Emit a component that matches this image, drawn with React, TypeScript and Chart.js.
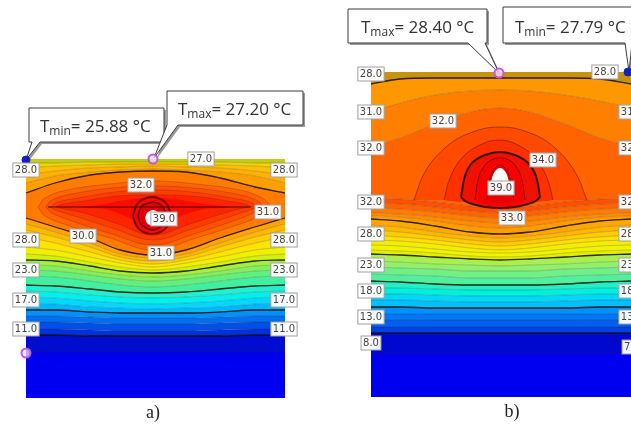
import React, { useEffect, useRef } from "react";
import { Chart, registerables } from "chart.js";

Chart.register(...registerables);

// ---------- panel a) isotherm curves, top to bottom ----------
const aStations = [26, 55, 90, 120, 153, 186, 220, 255, 285];
const aIsotherms = [
  [159, 159, 159, 159, 159, 159, 159, 159, 159],
  [163, 163, 162, 162, 162, 162, 162, 163, 163],
  [168, 166, 165, 164, 164, 164, 165, 166, 168],
  [175, 171, 168, 167, 166, 167, 168, 171, 175],
  [183, 176, 172, 170, 169, 170, 172, 176, 183],
  [193, 183, 175, 172, 171, 172, 178, 187, 193],
  [218, 227, 238, 250, 255, 250, 238, 227, 218],
  [224, 232, 243, 254, 258, 254, 243, 232, 224],
  [230, 237, 247, 257, 261, 257, 247, 237, 230],
  [237, 243, 252, 260, 264, 260, 252, 243, 237],
  [247, 250, 257, 263, 267, 263, 257, 250, 247],
  [254, 256, 262, 267, 270, 267, 262, 256, 254],
  [260, 261, 266, 271, 273, 271, 266, 261, 260],
  [265, 266, 271, 275, 277, 275, 271, 266, 265],
  [270, 271, 275, 279, 281, 279, 275, 271, 270],
  [276, 277, 281, 285, 287, 285, 281, 277, 276],
  [285, 286, 289, 292, 293, 292, 289, 286, 285],
  [291, 292, 295, 297, 298, 297, 295, 292, 291],
  [297, 298, 301, 303, 304, 303, 301, 298, 297],
  [303, 304, 307, 308, 309, 308, 307, 304, 303],
  [310, 310, 312, 313, 313, 313, 312, 310, 310],
  [316, 316, 317, 318, 318, 318, 317, 316, 316],
  [322, 322, 323, 324, 324, 324, 323, 322, 322],
  [329, 329, 330, 331, 331, 331, 330, 329, 329],
  [335, 335, 336, 336, 336, 336, 336, 335, 335],
  [352, 352, 352, 352, 352, 352, 352, 352, 352],
  [398, 398, 398, 398, 398, 398, 398, 398, 398],
];
const aBandColors = [
  "#c4cc14", "#ecd800", "#fcc000", "#ffb000", "#ffa000", "#ff7c00", "#ffa400", "#ffb800", "#ffd000",
  "#ffe400", "#f0f000", "#d0f010", "#a0f040", "#80f060", "#60f080", "#40f0a0", "#20f0d0", "#00f0f0",
  "#00d8ff", "#00b8ff", "#0090ff", "#0070f0", "#0050e8", "#0030e0", "#000cd0", "#0000f0",
];
const aHeavy = [5, 6, 12, 16, 20, 24];

// lens and rings of panel a)
const aLens1X = [38, 45, 67, 110, 153, 196, 240, 262, 272];
const aLens1Up = [207, 198, 190, 184, 181, 184, 190, 198, 207];
const aLens1Lo = [207, 216, 225, 238, 250, 238, 224, 215, 207];
const aLens2X = [46, 52, 72, 112, 153, 194, 236, 256, 264];
const aLens2Up = [207, 200, 194, 188, 186, 188, 194, 200, 207];
const aLens2Lo = [207, 213, 221, 234, 245, 234, 220, 212, 207];
const aLens3X = [50, 58, 78, 115, 153, 192, 232, 250, 258];
const aLens3Up = [207, 202, 198, 192, 190, 192, 198, 202, 207];
const aLens3Lo = [207, 211, 217, 229, 240, 229, 216, 210, 207];
const aLens4X = [56, 64, 84, 118, 153, 190, 228, 244, 252];
const aLens4Up = [207, 204, 201, 196, 195, 196, 201, 204, 207];
const aLens4Lo = [207, 209, 213, 224, 235, 224, 212, 208, 207];
const aLens5X = [78, 90, 105, 125, 153, 181, 205, 222, 235];
const aLens5Up = [207, 206, 204, 200, 198, 200, 204, 206, 207];
const aLens5Lo = [207, 208, 209, 216, 228, 216, 209, 208, 207];
const aSpineX = [48, 250];
const aSpineY = [207, 207];
const aRing1X = [133, 136, 140, 146, 152, 158, 164, 168, 171];
const aRing1Up = [216, 206, 201, 198, 197, 198, 201, 206, 216];
const aRing1Lo = [216, 225, 230, 233, 234, 233, 230, 225, 216];
const aRing2X = [138, 140, 143, 148, 152, 157, 161, 164, 166];
const aRing2Up = [216, 209, 205, 203, 202, 203, 205, 209, 216];
const aRing2Lo = [216, 223, 226, 229, 230, 229, 226, 223, 216];
const aCoreX = [145, 147, 150, 153, 156, 159, 161];
const aCoreUp = [218, 213, 211, 210, 211, 213, 218];
const aCoreLo = [218, 223, 225, 226, 225, 223, 218];

// ---------- panel b) isotherm curves, top to bottom ----------
const bStations = [371, 400, 435, 470, 500, 530, 565, 600, 631];
const bIsotherms = [
  [72, 72, 72, 72, 72, 72, 72, 72, 72],
  [84, 79, 78, 78, 78, 78, 78, 79, 84],
  [112, 103, 95, 91, 90, 91, 95, 101, 108],
  [147, 138, 124, 112, 108, 112, 124, 138, 147],
  [198, 199, 202, 206, 208, 206, 202, 199, 198],
  [203, 204, 207, 211, 213, 211, 207, 204, 203],
  [208, 209, 212, 216, 218, 216, 212, 209, 208],
  [213, 214, 217, 221, 223, 221, 217, 214, 213],
  [216, 217, 221, 226, 228, 226, 221, 217, 216],
  [219, 221, 226, 232, 234, 232, 226, 221, 219],
  [225, 227, 232, 236, 238, 236, 232, 227, 225],
  [230, 232, 236, 240, 242, 240, 236, 232, 230],
  [235, 237, 240, 244, 246, 244, 240, 237, 235],
  [240, 241, 244, 248, 250, 248, 244, 241, 240],
  [245, 246, 249, 252, 253, 252, 249, 246, 245],
  [250, 251, 253, 256, 257, 256, 253, 251, 250],
  [254, 255, 257, 259, 260, 259, 257, 255, 254],
  [261, 262, 264, 265, 266, 265, 264, 262, 261],
  [267, 268, 269, 271, 271, 271, 269, 268, 267],
  [274, 275, 276, 278, 278, 278, 276, 275, 274],
  [281, 282, 284, 285, 285, 285, 284, 282, 281],
  [288, 288, 289, 290, 290, 290, 289, 288, 288],
  [294, 294, 295, 296, 296, 296, 295, 294, 294],
  [300, 300, 301, 302, 302, 302, 301, 300, 300],
  [307, 307, 308, 308, 308, 308, 308, 307, 307],
  [314, 314, 314, 314, 314, 314, 314, 314, 314],
  [320, 320, 320, 320, 320, 320, 320, 320, 320],
  [327, 327, 327, 327, 327, 327, 327, 327, 327],
  [333, 333, 333, 333, 333, 333, 333, 333, 333],
  [353, 353, 353, 353, 353, 353, 353, 353, 353],
  [397, 397, 397, 397, 397, 397, 397, 397, 397],
];
const bBandColors = [
  "#c89410", "#ff9800", "#ff8000", "#ff6400", "#ff5000", "#ff6400", "#ff7c00", "#ff8c00", "#ff9c00",
  "#ffa800", "#ffb800", "#ffcc00", "#ffe000", "#f4ee00", "#f0f400", "#e0f000", "#a8f050", "#90f070",
  "#70f088", "#50f0a0", "#20f0c8", "#00f0e0", "#00d8f8", "#00c0ff", "#0090ff", "#0078f8", "#0060f0",
  "#0040e8", "#0008d0", "#0000f0",
];
const bHeavy = [1, 9, 16, 20, 24, 28];

const bDome1X = [414, 425, 445, 470, 500, 530, 555, 575, 587];
const bDome1Up = [200, 172, 148, 133, 127, 133, 148, 172, 200];
const bDome1Lo = [200, 200, 200, 200, 200, 200, 200, 200, 200];
const bDome2X = [444, 450, 462, 480, 499, 518, 535, 547, 553];
const bDome2Up = [200, 178, 158, 145, 140, 145, 158, 178, 200];
const bDome2Lo = [200, 201, 202, 204, 205, 204, 202, 201, 200];
const bDome3X = [461, 465, 472, 485, 500, 515, 528, 536, 540];
const bDome3Up = [197, 176, 163, 155, 152, 155, 163, 176, 197];
const bDome3Lo = [197, 201, 204, 207, 208, 207, 204, 201, 197];
const bDome4X = [475, 478, 483, 491, 500, 509, 517, 522, 525];
const bDome4Up = [200, 180, 168, 160, 158, 160, 168, 180, 200];
const bDome4Lo = [200, 202, 204, 206, 206, 206, 204, 202, 200];
const bDome5X = [487, 489, 492, 496, 500, 504, 508, 511, 514];
const bDome5Up = [200, 183, 173, 167, 165, 167, 173, 183, 200];
const bDome5Lo = [200, 201, 202, 203, 203, 203, 202, 201, 200];
const bCoreX = [491, 493, 496, 500, 504, 507, 509];
const bCoreUp = [182, 175, 170, 168, 170, 175, 182];
const bCoreLo = [182, 183, 183, 183, 183, 183, 182];

// ---------- value tags ----------
const tagX = [26, 201, 284, 141, 268, 164, 83, 26, 284, 161, 26, 284, 26, 284, 26, 284,
  371, 605, 371, 632, 443, 371, 632, 543, 501, 371, 632, 512, 371, 632, 371, 632, 371, 632, 371, 632, 371, 632];
const tagY = [170, 159, 170, 185, 212, 219, 236, 240, 240, 253, 270, 270, 300, 300, 329, 329,
  74, 72, 112, 112, 121, 148, 148, 160, 188, 202, 202, 218, 234, 234, 265, 265, 291, 291, 317, 317, 343, 347];
const tagText = ["28.0", "27.0", "28.0", "32.0", "31.0", "39.0", "30.0", "28.0", "28.0", "31.0", "23.0", "23.0", "17.0", "17.0", "11.0", "11.0",
  "28.0", "28.0", "31.0", "31.0", "32.0", "32.0", "32.0", "34.0", "39.0", "32.0", "32.0", "33.0", "28.0", "28.0", "23.0", "23.0", "18.0", "18.0", "13.0", "13.0", "8.0", "7.0"];

// ---------- extreme markers and callouts ----------
const minMarkerX = [26, 628];
const minMarkerY = [160, 72];
const maxMarkerX = [153, 26, 499];
const maxMarkerY = [159, 353, 73];

const calloutSub = ["min", "max", "max", "min"];
const calloutValue = ["= 25.88 °C", "= 27.20 °C", "= 28.40 °C", "= 27.79 °C"];
const calloutTextX = [40, 178, 361, 515];
const calloutTextY = [132, 115, 33, 33];
const calloutBoxes = [
  [[29, 108], [164, 108], [164, 142], [40, 142], [26, 160], [32, 142], [29, 142]],
  [[167, 91], [303, 91], [303, 125], [178, 125], [154, 158], [167, 125]],
  [[348, 9], [487, 9], [487, 43], [485, 43], [499, 73], [468, 43], [348, 43]],
  [[503, 7], [640, 7], [640, 43], [632, 43], [629, 72], [625, 43], [503, 43]],
];

const panelCaptions = ["a)", "b)"];
const captionX = [153, 512];
const captionY = [418, 417];

function pts(xs: number[], ys: number[]) {
  return xs.map((x, i) => ({ x, y: ys[i] }));
}

const THIN = "rgba(60,30,0,0.3)";
const HEAVY = "rgba(25,15,0,0.85)";
const DARKRED = "rgba(110,0,10,0.9)";

function bandDatasets(xs: number[], curves: number[][], colors: string[]) {
  return curves.map((c, i) => ({
    data: pts(xs, c),
    showLine: true,
    cubicInterpolationMode: "monotone",
    borderWidth: 0,
    borderColor: "transparent",
    pointRadius: 0,
    fill: i < colors.length ? "+1" : false,
    backgroundColor: colors[i] ?? "transparent",
  }));
}

function loopDatasets(xs: number[], up: number[], lo: number[], color: string) {
  return [
    { data: pts(xs, up), showLine: true, tension: 0.4, borderWidth: 0, borderColor: "transparent", pointRadius: 0, fill: "+1", backgroundColor: color },
    { data: pts(xs, lo), showLine: true, tension: 0.4, borderWidth: 0, borderColor: "transparent", pointRadius: 0, fill: false, backgroundColor: "transparent" },
  ];
}

function stroke(xs: number[], ys: number[], color: string, width: number) {
  return { data: pts(xs, ys), showLine: true, tension: 0.4, borderWidth: width, borderColor: color, pointRadius: 0, fill: false, backgroundColor: "transparent" };
}

function bandStroke(xs: number[], ys: number[], color: string, width: number) {
  return { data: pts(xs, ys), showLine: true, cubicInterpolationMode: "monotone", borderWidth: width, borderColor: color, pointRadius: 0, fill: false, backgroundColor: "transparent" };
}

const annotations = {
  id: "annotations",
  beforeDatasetsDraw(chart: any) {
    const { ctx, scales } = chart;
    const X = (v: number) => scales.x.getPixelForValue(v);
    const Y = (v: number) => scales.y.getPixelForValue(v);
    ctx.save();
    calloutBoxes.forEach((box, i) => {
      const path = (dx: number) => {
        ctx.beginPath();
        box.forEach(([x, y], k) => (k ? ctx.lineTo(X(x) + dx, Y(y) + dx) : ctx.moveTo(X(x) + dx, Y(y) + dx)));
        ctx.closePath();
      };
      path(2);
      ctx.fillStyle = "#9a9a9a";
      ctx.fill();
      path(0);
      ctx.fillStyle = "#ffffff";
      ctx.fill();
      ctx.strokeStyle = "#3c3c3c";
      ctx.lineWidth = 1;
      ctx.stroke();

      ctx.fillStyle = "#333333";
      ctx.textAlign = "left";
      ctx.textBaseline = "alphabetic";
      let tx = X(calloutTextX[i]);
      const ty = Y(calloutTextY[i]);
      ctx.font = "17px 'Open Sans'";
      ctx.fillText("T", tx, ty);
      tx += ctx.measureText("T").width;
      ctx.font = "12px 'Open Sans'";
      ctx.fillText(calloutSub[i], tx, ty + 3);
      tx += ctx.measureText(calloutSub[i]).width;
      ctx.font = "17px 'Open Sans'";
      ctx.fillText(calloutValue[i], tx, ty);
    });
    ctx.restore();
  },
  afterDatasetsDraw(chart: any) {
    const { ctx, scales } = chart;
    const X = (v: number) => scales.x.getPixelForValue(v);
    const Y = (v: number) => scales.y.getPixelForValue(v);
    ctx.save();
    tagText.forEach((t, i) => {
      const cx = X(tagX[i]);
      const cy = Y(tagY[i]);
      ctx.font = "10px 'DejaVu Sans'";
      const w = ctx.measureText(t).width + 4;
      ctx.fillStyle = "rgba(255,255,255,0.96)";
      ctx.fillRect(cx - w / 2, cy - 7, w, 14);
      ctx.strokeStyle = "#a0a0a0";
      ctx.lineWidth = 1;
      ctx.strokeRect(cx - w / 2, cy - 7, w, 14);
      ctx.fillStyle = "#444444";
      ctx.textAlign = "center";
      ctx.textBaseline = "middle";
      ctx.fillText(t, cx, cy + 0.5);
    });
    ctx.fillStyle = "#222222";
    ctx.font = "18px 'Liberation Serif'";
    ctx.textAlign = "center";
    ctx.textBaseline = "alphabetic";
    panelCaptions.forEach((t, i) => ctx.fillText(t, X(captionX[i]), Y(captionY[i])));
    ctx.restore();
  },
};

export default function App() {
  const ref = useRef<HTMLCanvasElement | null>(null);
  useEffect(() => {
    if (!ref.current) return;
    const markers = [
      {
        data: pts(minMarkerX, minMarkerY),
        showLine: false,
        pointStyle: "circle",
        pointRadius: 4,
        pointBackgroundColor: "#1420c0",
        pointBorderColor: "#1420c0",
        pointBorderWidth: 1,
      },
      {
        data: pts(maxMarkerX, maxMarkerY),
        showLine: false,
        pointStyle: "circle",
        pointRadius: 4.5,
        pointBackgroundColor: "rgba(240,225,250,0.75)",
        pointBorderColor: "#c458e0",
        pointBorderWidth: 2,
      },
    ];
    const aStrokes = [
      ...aHeavy.map((i) => bandStroke(aStations, aIsotherms[i], HEAVY, 1.3)),
      ...aIsotherms.slice(1, -1).map((c) => bandStroke(aStations, c, THIN, 0.8)),
      stroke(aSpineX, aSpineY, "rgba(50,0,0,0.85)", 1),
      stroke(aLens1X, aLens1Up, THIN, 0.8), stroke(aLens1X, aLens1Lo, THIN, 0.8),
      stroke(aLens2X, aLens2Up, THIN, 0.8), stroke(aLens2X, aLens2Lo, THIN, 0.8),
      stroke(aLens3X, aLens3Up, THIN, 0.8), stroke(aLens3X, aLens3Lo, THIN, 0.8),
      stroke(aLens4X, aLens4Up, THIN, 0.8), stroke(aLens4X, aLens4Lo, THIN, 0.8),
      stroke(aRing1X, aRing1Up, DARKRED, 2), stroke(aRing1X, aRing1Lo, DARKRED, 2),
      stroke(aRing2X, aRing2Up, DARKRED, 1.6), stroke(aRing2X, aRing2Lo, DARKRED, 1.6),
    ];
    const bStrokes = [
      ...bHeavy.map((i) => bandStroke(bStations, bIsotherms[i], HEAVY, 1.3)),
      ...bIsotherms.slice(1, -1).map((c) => bandStroke(bStations, c, THIN, 0.8)),
      stroke(bDome1X, bDome1Up, "rgba(70,20,0,0.55)", 0.9),
      stroke(bDome2X, bDome2Up, "rgba(70,20,0,0.55)", 0.9),
      stroke(bDome3X, bDome3Up, HEAVY, 2), stroke(bDome3X, bDome3Lo, HEAVY, 2),
      stroke(bDome4X, bDome4Up, DARKRED, 0.9),
      stroke(bDome5X, bDome5Up, DARKRED, 0.9),
    ];
    const datasets: any[] = [
      ...markers,
      ...aStrokes,
      ...bStrokes,
      ...loopDatasets(aCoreX, aCoreUp, aCoreLo, "#ffffff"),
      ...loopDatasets(aRing2X, aRing2Up, aRing2Lo, "#e00008"),
      ...loopDatasets(aRing1X, aRing1Up, aRing1Lo, "#f40808"),
      ...loopDatasets(aLens5X, aLens5Up, aLens5Lo, "#f80c00"),
      ...loopDatasets(aLens4X, aLens4Up, aLens4Lo, "#ff2400"),
      ...loopDatasets(aLens3X, aLens3Up, aLens3Lo, "#ff3c00"),
      ...loopDatasets(aLens2X, aLens2Up, aLens2Lo, "#ff5000"),
      ...loopDatasets(aLens1X, aLens1Up, aLens1Lo, "#ff6400"),
      ...loopDatasets(bCoreX, bCoreUp, bCoreLo, "#ffffff"),
      ...loopDatasets(bDome5X, bDome5Up, bDome5Lo, "#e80000"),
      ...loopDatasets(bDome4X, bDome4Up, bDome4Lo, "#f80000"),
      ...loopDatasets(bDome3X, bDome3Up, bDome3Lo, "#f01000"),
      ...loopDatasets(bDome2X, bDome2Up, bDome2Lo, "#ff3000"),
      ...loopDatasets(bDome1X, bDome1Up, bDome1Lo, "#ff4a00"),
      ...bandDatasets(aStations, aIsotherms, aBandColors),
      ...bandDatasets(bStations, bIsotherms, bBandColors),
    ];
    const chart = new Chart(ref.current, {
      type: "scatter",
      data: { datasets },
      plugins: [annotations],
      options: {
        animation: false,
        responsive: false,
        devicePixelRatio: 1,
        events: [],
        layout: { padding: 0, autoPadding: false },
        scales: {
          x: { type: "linear", min: 0, max: 631, display: false },
          y: { type: "linear", min: 0, max: 424, reverse: true, display: false },
        },
        plugins: { legend: { display: false }, tooltip: { enabled: false } },
      },
    } as any);
    return () => chart.destroy();
  }, []);
  return (
    <div style={{ position: "fixed", left: 0, top: 0, width: 631, height: 424, overflow: "hidden", background: "#fff" }}>
      <canvas ref={ref} width={631} height={424} style={{ display: "block", filter: "blur(0.7px)" }} />
    </div>
  );
}
